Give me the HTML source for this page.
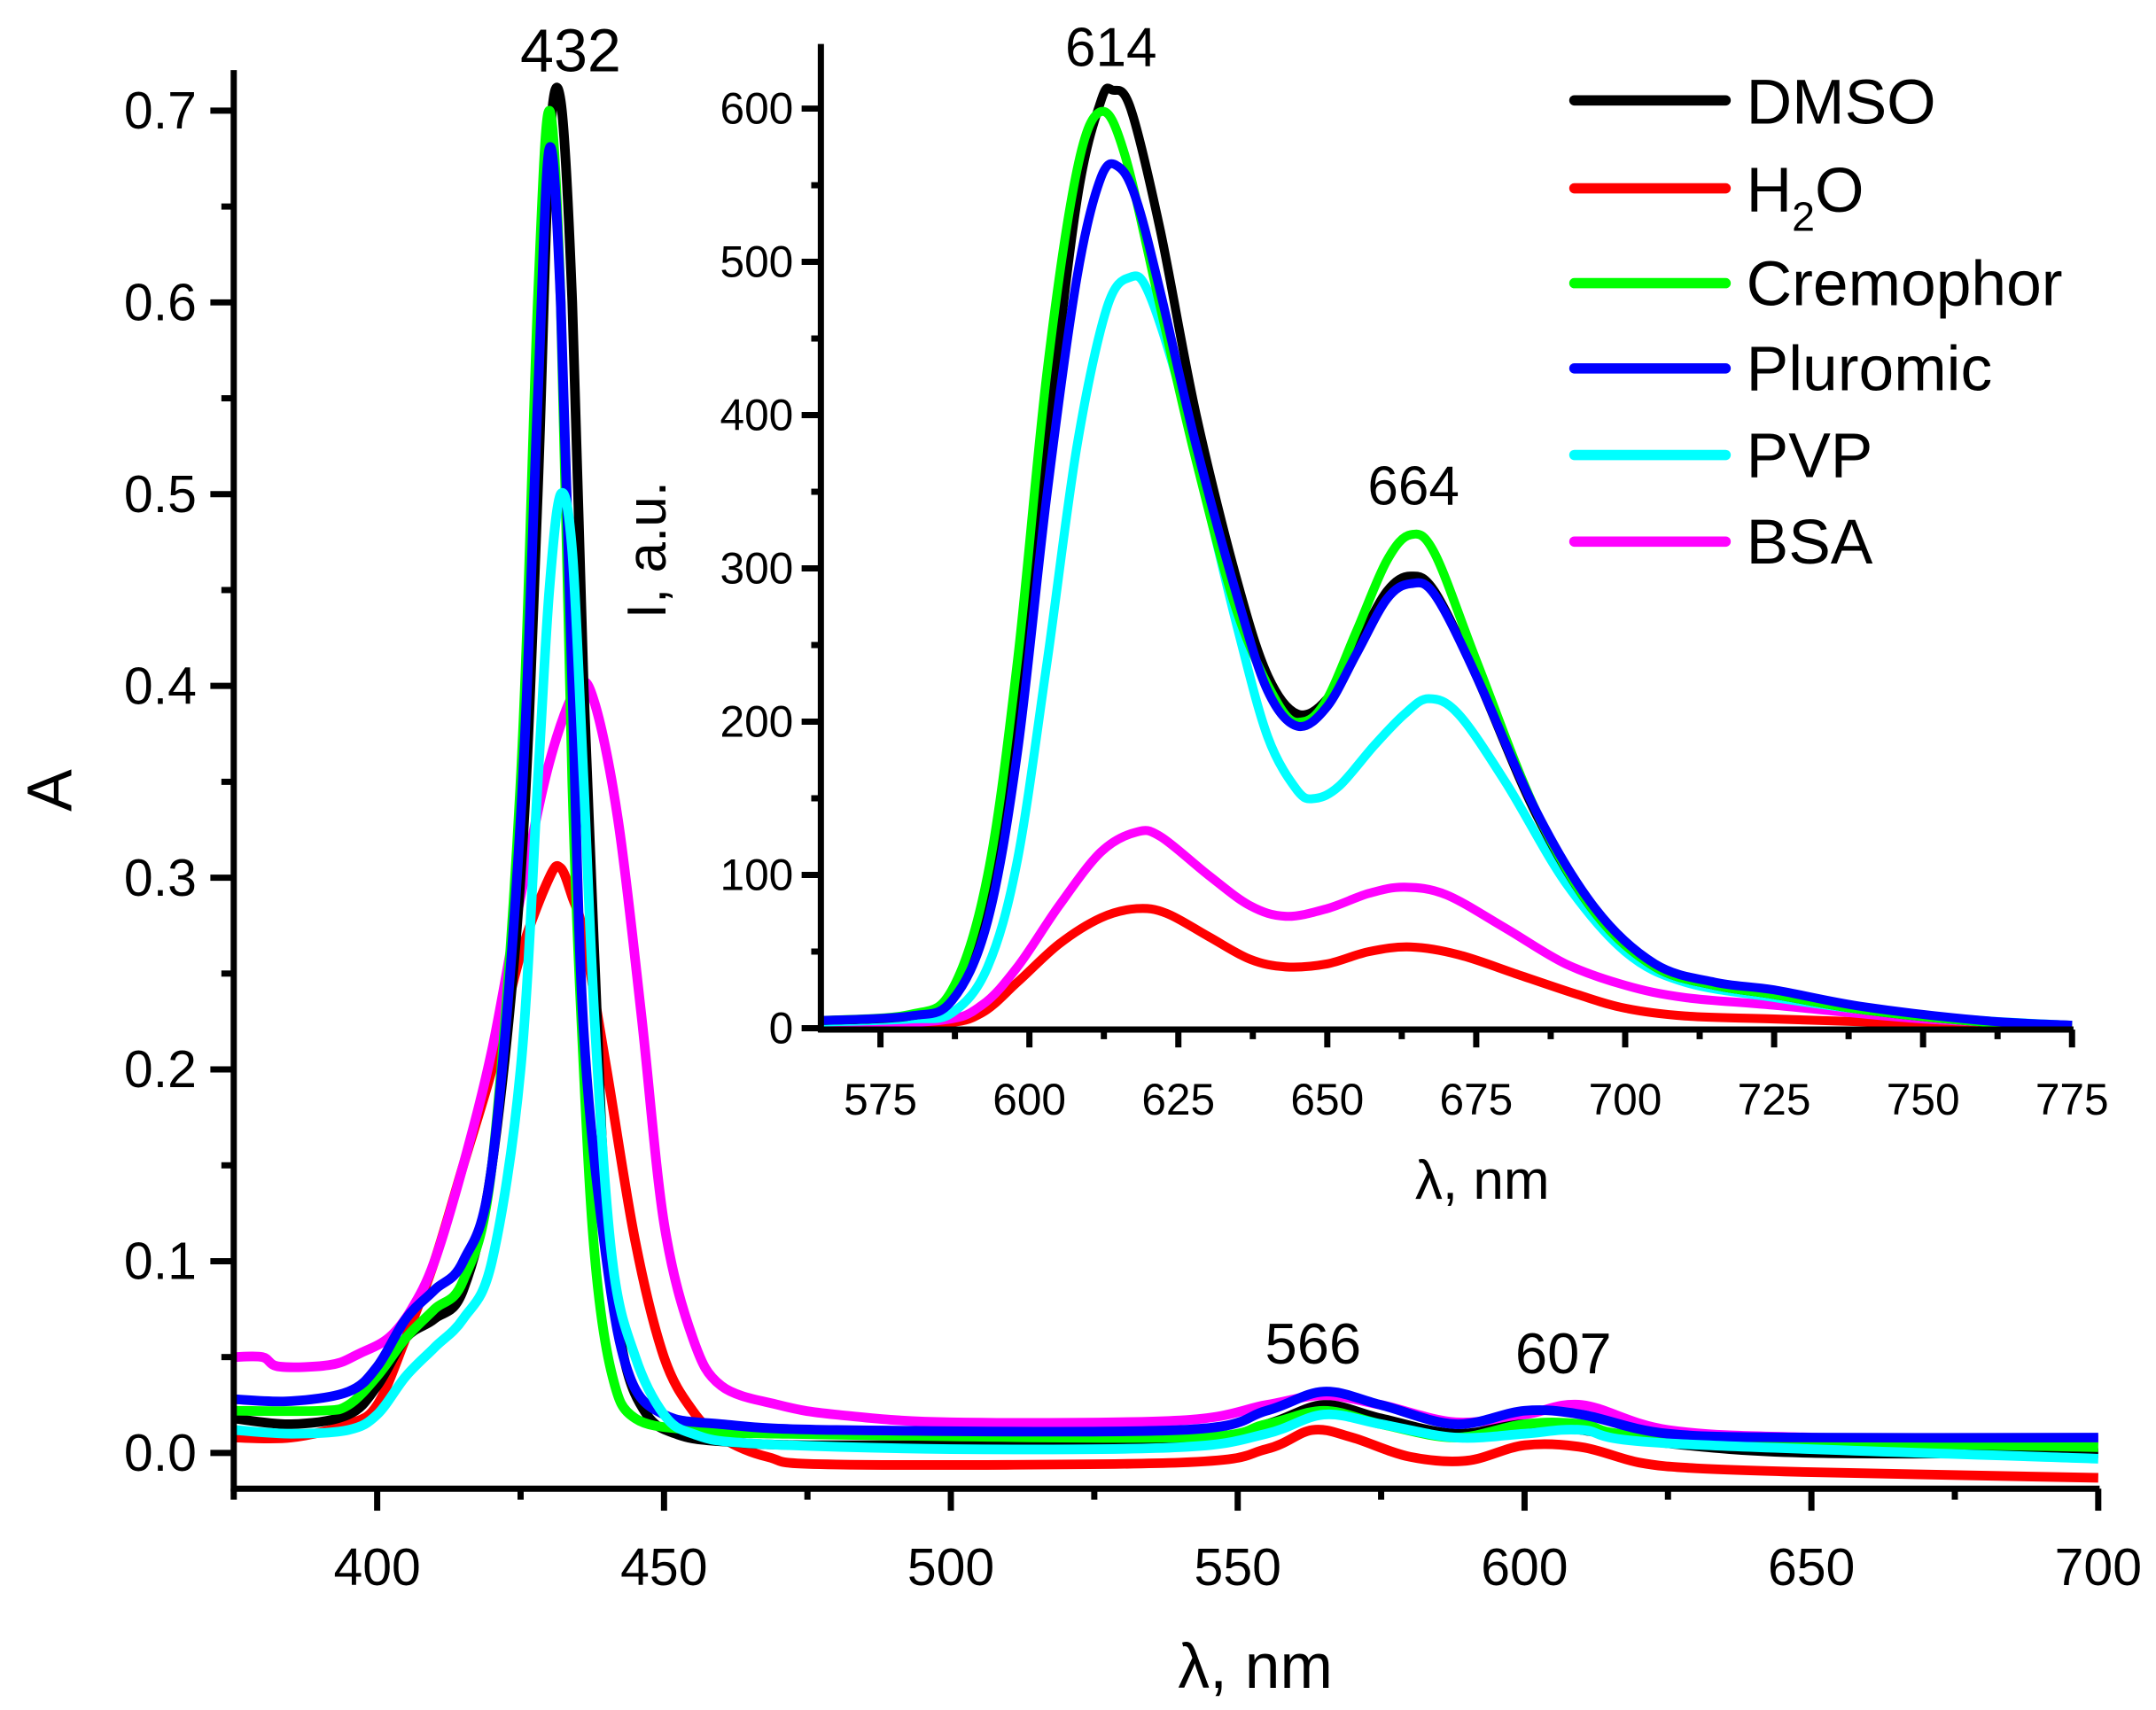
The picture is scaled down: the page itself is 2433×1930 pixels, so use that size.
<!DOCTYPE html>
<html><head><meta charset="utf-8"><style>
html,body{margin:0;padding:0;background:#fff;}
svg{display:block;}
text{font-family:"Liberation Sans",Arial,sans-serif;fill:#000;}
</style></head><body>
<svg id="s" width="2433" height="1930" viewBox="0 0 1568 1244" preserveAspectRatio="none" xmlns="http://www.w3.org/2000/svg">
<g id="g"></g>
<g stroke="#000" stroke-width="4.5" fill="none">
<line x1="170" y1="51" x2="170" y2="1085"/>
<line x1="168" y1="1083" x2="1527" y2="1083"/>
<line x1="597" y1="32" x2="597" y2="751"/>
<line x1="595" y1="749" x2="1508" y2="749"/>
</g>
<g id="ticks" stroke="#000" stroke-width="4.5"></g>
<g id="labels" font-size="38"></g>
<text x="415" y="52" font-size="44" text-anchor="middle">432</text>
<text x="955" y="992" font-size="42" text-anchor="middle">566</text>
<text x="1137" y="999" font-size="42" text-anchor="middle">607</text>
<text x="808" y="48" font-size="40" text-anchor="middle">614</text>
<text x="1028" y="367" font-size="40" text-anchor="middle">664</text>
<text x="52" y="575" font-size="46" text-anchor="middle" transform="rotate(-90 52 575)">A</text>
<text x="913" y="1228" font-size="46" text-anchor="middle">λ, nm</text>
<text x="1078" y="872" font-size="40" text-anchor="middle">λ, nm</text>
<text x="484" y="400" font-size="40" text-anchor="middle" transform="rotate(-90 484 400)">I, a.u.</text>
<g stroke-width="7.5" stroke-linecap="round">
<line x1="1145" y1="73" x2="1255" y2="73" stroke="#000"/>
<line x1="1145" y1="137" x2="1255" y2="137" stroke="#f00"/>
<line x1="1145" y1="206" x2="1255" y2="206" stroke="#0f0"/>
<line x1="1145" y1="268" x2="1255" y2="268" stroke="#00f"/>
<line x1="1145" y1="331" x2="1255" y2="331" stroke="#0ff"/>
<line x1="1145" y1="394" x2="1255" y2="394" stroke="#f0f"/>
</g>
<g font-size="46">
<text x="1270" y="90">DMSO</text>
<text x="1270" y="154">H<tspan font-size="30" dy="14">2</tspan><tspan dy="-14">O</tspan></text>
<text x="1270" y="222">Cremophor</text>
<text x="1270" y="284">Pluromic</text>
<text x="1270" y="347">PVP</text>
<text x="1270" y="410">BSA</text>
</g>
</svg>
<script>
var NS="http://www.w3.org/2000/svg";
function el(p,t,a,txt){var e=document.createElementNS(NS,t);for(var k in a)e.setAttribute(k,a[k]);if(txt!==undefined)e.textContent=txt;p.appendChild(e);return e;}
var g=document.getElementById('g'),tk=document.getElementById('ticks'),lb=document.getElementById('labels');
function MX(n){return 170+(n-375)*4.1723;} function MY(a){return 1057-a*1395;}
function IX(n){return 597+(n-565)*4.333;} function IY(v){return 748-v*1.115;}
function path(pts,fx,fy){var p=pts.map(function(q){return [fx(q[0]),fy(q[1])];});
var d="M"+p[0][0].toFixed(1)+","+p[0][1].toFixed(1);
for(var i=0;i<p.length-1;i++){var p0=p[i-1]||p[i],p1=p[i],p2=p[i+1],p3=p[i+2]||p2;
var c1=[p1[0]+(p2[0]-p0[0])/6,p1[1]+(p2[1]-p0[1])/6],c2=[p2[0]-(p3[0]-p1[0])/6,p2[1]-(p3[1]-p1[1])/6];
d+="C"+c1[0].toFixed(1)+","+c1[1].toFixed(1)+" "+c2[0].toFixed(1)+","+c2[1].toFixed(1)+" "+p2[0].toFixed(1)+","+p2[1].toFixed(1);}
return d;}
function P(s){var a=s.trim().split(/\s*,\s*/);return a.map(function(x){var b=x.split(/\s+/);return [+b[0],+b[1]];});}
var main={
"#f00":"375 .008, 385 .008, 395 .015, 400 .025, 405 .06, 410 .1, 415 .15, 420 .2, 425 .26, 430 .3, 432 .305, 434 .29, 436 .27, 440 .2, 445 .11, 450 .05, 455 .022, 460 .008, 468 -.002, 480 -.006, 540 -.005, 555 .002, 563 .012, 570 .008, 580 -.002, 590 -.004, 600 .004, 610 .003, 620 -.005, 630 -.008, 650 -.01, 700 -.013",
"#f0f":"375 .05, 380 .05, 383 .045, 392 .046, 397 .052, 402 .06, 406 .075, 410 .1, 415 .15, 420 .21, 425 .29, 430 .36, 435 .4, 438 .39, 442 .33, 446 .23, 450 .12, 455 .06, 460 .035, 470 .025, 480 .02, 500 .016, 540 .017, 555 .025, 565 .03, 575 .025, 588 .016, 600 .02, 610 .025, 625 .012, 650 .008, 700 .007",
"#000":"375 .018, 385 .015, 395 .02, 400 .035, 405 .06, 410 .07, 415 .085, 420 .15, 425 .3, 428 .5, 430 .68, 432 .705, 434 .6, 436 .4, 438 .25, 440 .12, 443 .05, 447 .02, 452 .01, 460 .006, 480 .004, 540 .006, 555 .015, 565 .025, 575 .018, 588 .01, 600 .015, 610 .012, 625 .005, 650 0, 700 0",
"#0f0":"375 .022, 390 .022, 395 .025, 400 .04, 405 .06, 410 .075, 415 .09, 420 .15, 425 .35, 428 .6, 430 .7, 432 .6, 434 .35, 436 .2, 438 .1, 441 .04, 445 .018, 455 .012, 470 .01, 540 .008, 555 .015, 565 .022, 575 .015, 588 .008, 600 .015, 610 .015, 625 .008, 700 .003",
"#00f":"375 .028, 385 .027, 395 .032, 400 .045, 405 .07, 410 .085, 415 .1, 420 .15, 425 .33, 428 .55, 430 .68, 432 .6, 434 .4, 436 .22, 440 .1, 444 .04, 450 .02, 460 .015, 480 .012, 540 .012, 555 .022, 565 .032, 575 .025, 588 .015, 600 .022, 610 .02, 625 .01, 650 .008, 700 .008",
"#0ff":"375 .012, 385 .01, 395 .012, 400 .02, 405 .04, 410 .055, 415 .07, 420 .1, 425 .2, 428 .35, 430 .45, 432 .5, 434 .47, 436 .35, 438 .22, 441 .1, 445 .05, 450 .02, 455 .01, 465 .005, 500 .002, 540 .003, 555 .01, 565 .02, 575 .015, 588 .008, 600 .01, 610 .012, 625 .005, 700 -.003"};
var ins={
"#f00":"565 1, 585 3, 592 10, 598 30, 605 55, 612 72, 618 78, 623 75, 630 60, 637 45, 643 40, 650 42, 657 50, 664 53, 672 48, 682 35, 692 22, 700 13, 710 8, 725 6, 750 3, 775 1",
"#f0f":"565 2, 585 5, 592 15, 598 40, 605 80, 612 115, 618 128, 622 125, 630 100, 637 80, 643 73, 650 78, 657 88, 663 92, 670 87, 680 65, 690 42, 700 28, 710 20, 725 15, 750 6, 775 2",
"#0ff":"565 4, 580 6, 587 10, 593 40, 598 110, 603 240, 608 380, 613 470, 617 490, 620 480, 625 420, 630 340, 635 260, 640 190, 645 155, 648 150, 652 158, 658 185, 663 205, 667 215, 672 205, 680 160, 690 95, 700 50, 710 30, 725 20, 740 12, 760 5, 775 2",
"#000":"565 5, 580 8, 587 20, 593 80, 598 200, 603 380, 608 540, 612 605, 614 612, 617 600, 622 520, 628 400, 635 290, 640 230, 645 205, 650 215, 655 250, 660 285, 664 295, 668 285, 675 230, 685 140, 695 75, 705 40, 715 28, 725 22, 740 12, 760 4, 775 2",
"#0f0":"565 5, 580 9, 587 25, 593 100, 598 240, 603 430, 608 560, 612 598, 616 570, 622 470, 628 370, 635 270, 642 210, 646 200, 650 215, 655 260, 660 305, 664 322, 668 310, 675 240, 685 142, 695 75, 705 40, 715 28, 725 22, 740 12, 760 4, 775 2",
"#00f":"565 5, 580 8, 587 18, 593 70, 598 180, 603 350, 608 490, 612 555, 615 562, 618 540, 622 480, 628 380, 635 280, 640 220, 645 197, 650 210, 655 245, 660 280, 664 290, 668 283, 675 230, 685 142, 695 78, 705 42, 715 30, 725 25, 740 14, 760 5, 775 2"};
for(var c in main)el(g,'path',{d:path(P(main[c]),MX,MY),fill:'none',stroke:c,'stroke-width':7,'stroke-linejoin':'round'});
for(var c in ins)el(g,'path',{d:path(P(ins[c]),IX,IY),fill:'none',stroke:c,'stroke-width':6.5,'stroke-linejoin':'round'});
for(var n=375;n<=700;n+=25){var x=MX(n),maj=(n%50==0);el(tk,'line',{x1:x,y1:1083,x2:x,y2:maj?1099:1091});if(maj)el(lb,'text',{x:x,y:1153,'text-anchor':'middle'},String(n));}
for(var i=0;i<=14;i++){var a=i*0.05,y=MY(a),maj=(i%2==0);el(tk,'line',{x1:maj?153:161,y1:y,x2:170,y2:y});if(maj)el(lb,'text',{x:143,y:y+13,'text-anchor':'end'},a.toFixed(1));}
for(var n=575;n<=775;n+=12.5){var x=IX(n),maj=(Math.abs((n-575)%25)<0.01);el(tk,'line',{x1:x,y1:749,x2:x,y2:maj?762:756});if(maj)el(lb,'text',{x:x,y:811,'text-anchor':'middle','font-size':32},String(n));}
for(var v=0;v<=600;v+=50){var y=IY(v),maj=(v%100==0);el(tk,'line',{x1:maj?583:590,y1:y,x2:597,y2:y});if(maj)el(lb,'text',{x:577,y:y+11,'text-anchor':'end','font-size':32},String(v));}
</script>
</body></html>
